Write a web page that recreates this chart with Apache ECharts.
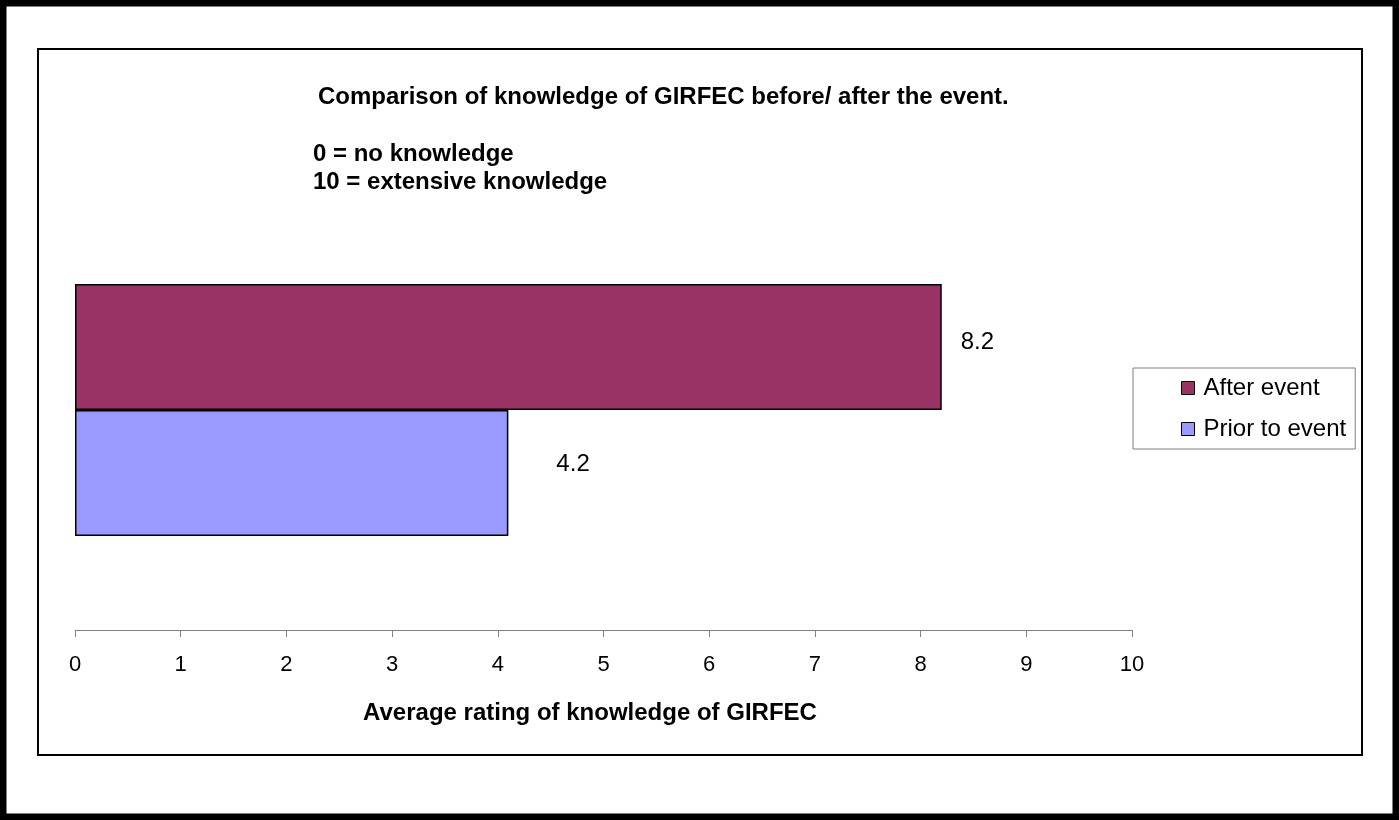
<!DOCTYPE html>
<html>
<head>
<meta charset="utf-8">
<script src="https://cdn.jsdelivr.net/npm/echarts@6/dist/echarts.min.js"></script>
<style>
html,body{margin:0;padding:0;background:#fff;}
#c{width:1399px;height:820px;}
</style>
</head>
<body>
<div id="c"></div>
<script>
// ---- data ----
const categories = ['GIRFEC'];
const seriesNames = ['After event', 'Prior to event'];
const afterValues = [8.2];
const priorValues = [4.1];
const afterLabels = ['8.2'];
const priorLabels = ['4.2'];
const xTickLabels = ['0','1','2','3','4','5','6','7','8','9','10'];
const titleText = 'Comparison of knowledge of GIRFEC before/ after the event.';
const noteLines = ['0 = no knowledge', '10 = extensive knowledge'];
const axisTitle = 'Average rating of knowledge of GIRFEC';
const colors = ['#993366', '#9999FF'];

const FONT = '"Liberation Sans", Arial, sans-serif';

const chart = echarts.init(document.getElementById('c'), null, {renderer: 'canvas'});

const option = {
  animation: false,
  backgroundColor: '#ffffff',
  textStyle: {fontFamily: FONT},
  grid: {left: 75, right: 267, top: 190, bottom: 190, containLabel: false},
  xAxis: {
    type: 'value',
    min: 0, max: 10, interval: 1,
    axisLine: {show: true, lineStyle: {color: '#808080', width: 1}},
    axisTick: {show: true, length: 7, inside: false, lineStyle: {color: '#808080', width: 1}},
    splitLine: {show: false},
    axisLabel: {
      margin: 24, color: '#000', fontSize: 22, fontFamily: FONT,
      formatter: (v) => xTickLabels[Math.round(v)]
    }
  },
  yAxis: {
    type: 'category',
    data: categories,
    axisLine: {show: false},
    axisTick: {show: false},
    axisLabel: {show: false},
    splitLine: {show: false}
  },
  legend: {
    orient: 'vertical',
    left: 1133, top: 368,
    data: seriesNames,
    icon: 'rect',
    itemWidth: 13, itemHeight: 13,
    itemGap: 15,
    padding: [7, 9, 7, 48],
    borderColor: '#808080', borderWidth: 1,
    itemStyle: {borderColor: '#000', borderWidth: 1},
    textStyle: {fontSize: 24, color: '#000', fontFamily: FONT, lineHeight: 26, padding: [0, 0, 0, 4]}
  },
  series: [
    {
      name: seriesNames[0],
      type: 'bar',
      data: afterValues,
      barWidth: 126,
      barGap: '0%',
      itemStyle: {color: colors[0], borderColor: '#000', borderWidth: 1.5},
      label: {
        show: true, position: 'right', distance: 19, offset: [0, -5],
        color: '#000', fontSize: 24, fontFamily: FONT,
        formatter: (p) => afterLabels[p.dataIndex]
      }
    },
    {
      name: seriesNames[1],
      type: 'bar',
      data: priorValues,
      barWidth: 126,
      barGap: '0%',
      itemStyle: {color: colors[1], borderColor: '#000', borderWidth: 1.5},
      label: {
        show: true, position: 'right', distance: 48, offset: [0, -9],
        color: '#000', fontSize: 24, fontFamily: FONT,
        formatter: (p) => priorLabels[p.dataIndex]
      }
    }
  ],
  graphic: [
    {type: 'rect', silent: true, z: 100,
     shape: {x: 3, y: 3, width: 1393, height: 814},
     style: {fill: null, stroke: '#000', lineWidth: 7}},
    {type: 'rect', silent: true, z: 100,
     shape: {x: 38, y: 49, width: 1324, height: 706},
     style: {fill: null, stroke: '#000', lineWidth: 2}},
    {type: 'text', silent: true, z: 100, x: 318, y: 97,
     style: {text: titleText, font: 'bold 24px ' + FONT, fill: '#000', textVerticalAlign: 'middle', textAlign: 'left'}},
    {type: 'text', silent: true, z: 100, x: 313, y: 154,
     style: {text: noteLines[0], font: 'bold 24px ' + FONT, fill: '#000', textVerticalAlign: 'middle', textAlign: 'left'}},
    {type: 'text', silent: true, z: 100, x: 313, y: 182,
     style: {text: noteLines[1], font: 'bold 24px ' + FONT, fill: '#000', textVerticalAlign: 'middle', textAlign: 'left'}},
    {type: 'text', silent: true, z: 100, x: 590, y: 713,
     style: {text: axisTitle, font: 'bold 24px ' + FONT, fill: '#000', textVerticalAlign: 'middle', textAlign: 'center'}}
  ]
};

chart.setOption(option);
</script>
</body>
</html>
